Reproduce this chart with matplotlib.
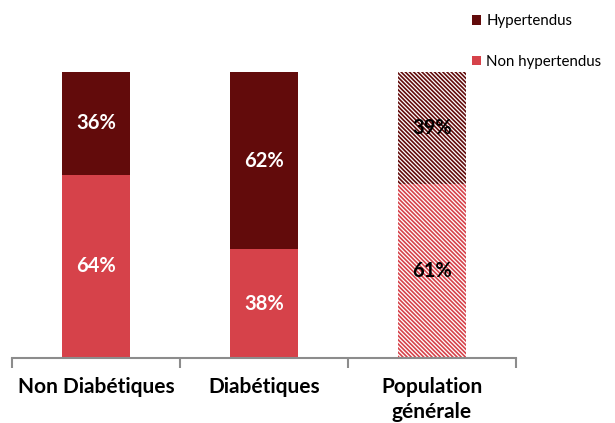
import matplotlib
matplotlib.use("Agg")
import matplotlib.pyplot as plt
from matplotlib.patches import Patch

categories = ["Non Diabétiques", "Diabétiques", "Population\ngénérale"]
non_hypertendus = [64, 38, 61]
hypertendus = [36, 62, 39]

DARK = "#620B0B"
LIGHT = "#D6424A"

plt.rcParams["font.family"] = ["Lato", "DejaVu Sans"]
plt.rcParams["hatch.linewidth"] = 1.2

fig = plt.figure(figsize=(6.15, 4.23), dpi=100)
ax = fig.add_axes([12 / 615, 65 / 423, 504 / 615, 286 / 423])

x = range(len(categories))
width = 0.4
for i in x:
    hatched = i == 2
    if hatched:
        ax.bar(i, non_hypertendus[i], width, color="white", edgecolor=LIGHT,
               hatch="\\" * 8, linewidth=0)
        ax.bar(i, hypertendus[i], width, bottom=non_hypertendus[i],
               color="white", edgecolor=DARK, hatch="\\" * 8, linewidth=0)
        txt = "black"
    else:
        ax.bar(i, non_hypertendus[i], width, color=LIGHT, linewidth=0)
        ax.bar(i, hypertendus[i], width, bottom=non_hypertendus[i], color=DARK,
               linewidth=0)
        txt = "white"
    ax.text(i, non_hypertendus[i] / 2, f"{non_hypertendus[i]}%", ha="center",
            va="center", color=txt, fontsize=14.5, fontweight="bold")
    ax.text(i, non_hypertendus[i] + hypertendus[i] / 2, f"{hypertendus[i]}%",
            ha="center", va="center", color=txt, fontsize=14.5, fontweight="bold")

ax.set_xlim(-0.5, 2.5)
ax.set_ylim(0, 100)
for s in ["top", "right", "left"]:
    ax.spines[s].set_visible(False)
ax.spines["bottom"].set_color("#8c8c8c")
ax.spines["bottom"].set_linewidth(1.5)
ax.set_yticks([])
ax.set_xticks(list(x))
ax.set_xticklabels(categories, fontsize=15, fontweight="bold", linespacing=1.3)
ax.tick_params(axis="x", which="major", length=0, pad=14)
ax.set_xticks([-0.5, 0.5, 1.5, 2.5], minor=True)
ax.tick_params(axis="x", which="minor", length=7, width=1.5, color="#8c8c8c",
               direction="out")

handles = [Patch(facecolor=DARK, label="Hypertendus"),
           Patch(facecolor=LIGHT, label="Non hypertendus")]
fig.legend(handles=handles, loc="upper left", bbox_to_anchor=(458 / 615, 0.998),
           frameon=False, fontsize=10.8, handlelength=0.6, handleheight=0.6,
           handletextpad=0.4, labelspacing=1.75)

fig.savefig("out.png", dpi=100)
